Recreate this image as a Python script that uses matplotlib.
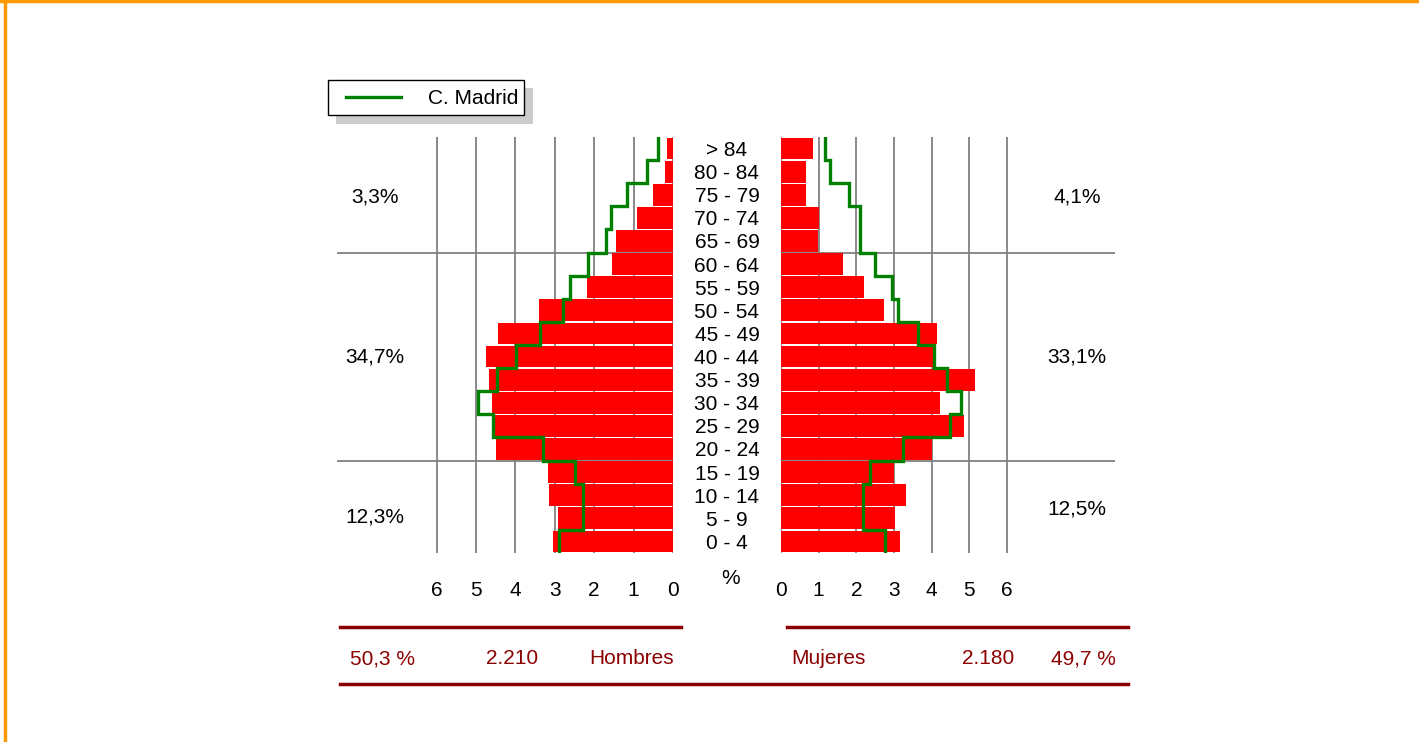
import numpy as np
import matplotlib
matplotlib.use("Agg")
from matplotlib import pyplot as plt
from matplotlib.patches import Rectangle
from matplotlib.lines import Line2D
from matplotlib.transforms import blended_transform_factory

plt.rcParams["font.family"] = ["Liberation Sans", "DejaVu Sans"]

# age groups, youngest first (bottom row first)
ages = ["0 - 4", "5 - 9", "10 - 14", "15 - 19", "20 - 24", "25 - 29", "30 - 34",
        "35 - 39", "40 - 44", "45 - 49", "50 - 54", "55 - 59", "60 - 64",
        "65 - 69", "70 - 74", "75 - 79", "80 - 84", "> 84"]
hombres = [3.05, 2.92, 3.15, 3.17, 4.49, 4.52, 4.59, 4.67, 4.75, 4.44, 3.40,
           2.18, 1.55, 1.45, 0.91, 0.51, 0.20, 0.15]
madrid_h = [2.90, 2.29, 2.28, 2.48, 3.30, 4.58, 4.94, 4.47, 3.98, 3.38, 2.78,
            2.61, 2.17, 1.70, 1.57, 1.18, 0.67, 0.37]
mujeres = [3.16, 3.03, 3.32, 3.00, 4.01, 4.86, 4.22, 5.15, 4.06, 4.14, 2.74,
           2.20, 1.65, 0.98, 1.01, 0.66, 0.66, 0.85]
madrid_m = [2.76, 2.19, 2.19, 2.37, 3.25, 4.48, 4.78, 4.40, 4.07, 3.64, 3.12,
            2.94, 2.50, 2.09, 2.09, 1.81, 1.30, 1.17]
ticks = [0, 1, 2, 3, 4, 5, 6]
group_breaks = [3.5, 12.5]          # 0-19 | 20-64 | 65+
share_h = ["12,3%", "34,7%", "3,3%"]
share_m = ["12,5%", "33,1%", "4,1%"]
totals_h = ["50,3 %", "2.210", "Hombres"]
totals_m = ["Mujeres", "2.180", "49,7 %"]
legend_label = "C. Madrid"

W, H = 1419, 742
RED = "#ff0000"
GREEN = "#008000"
GRID = "#808080"
DARKRED = "#8b0000"
FS = 15
VA = "center_baseline"


def px(x, y):
    # pixel position (top-left origin) -> figure fraction
    return x / W, 1 - y / H


fig = plt.figure(figsize=(W / 100, H / 100), dpi=100)

ax_h = fig.add_axes([337 / W, 1 - 553 / H, 336 / W, 416 / H])
ax_m = fig.add_axes([781 / W, 1 - 553 / H, 334 / W, 416 / H])

y = np.arange(len(ages))


def step_xy(vals):
    xs = np.repeat(vals, 2)
    ys = np.column_stack([y - 0.5, y + 0.5]).ravel()
    return xs, ys


for ax, bars, ref, xlim in [(ax_h, hombres, madrid_h, (8.53, 0)),
                            (ax_m, mujeres, madrid_m, (0, 8.87))]:
    for t in ticks:
        ax.axvline(t, color=GRID, lw=1.3, zorder=0)
    for b in group_breaks:
        ax.axhline(b, color=GRID, lw=1.3, zorder=0)
    ax.barh(y, bars, height=0.94, color=RED, zorder=2)
    xs, ys = step_xy(ref)
    ax.plot(xs, ys, color=GREEN, lw=2.4, zorder=3, solid_joinstyle="miter")
    ax.set_xlim(*xlim)
    ax.set_ylim(-0.5, len(ages) - 0.5)
    ax.set_xticks(ticks)
    ax.set_xticklabels([str(t) for t in ticks], fontsize=FS)
    ax.tick_params(axis="x", length=0, pad=20)
    ax.set_yticks([])
    for s in ax.spines.values():
        s.set_visible(False)

# age labels in the centre gap
tr = blended_transform_factory(fig.transFigure, ax_h.transData)
for i, a in enumerate(ages):
    ax_h.text(727 / W, i, a, transform=tr, ha="center", va=VA,
              fontsize=FS, clip_on=False)

fig.text(*px(731, 577), "%", ha="center", va=VA, fontsize=FS)

# group share labels
for ax, shares, xc, ys_ in [(ax_h, share_h, 375, [1.14, 8.07, 15.0]),
                            (ax_m, share_m, 1077, [1.49, 8.07, 15.0])]:
    trs = blended_transform_factory(fig.transFigure, ax.transData)
    for s, yy in zip(shares, ys_):
        ax.text(xc / W, yy, s, transform=trs, ha="center", va=VA,
                fontsize=FS, clip_on=False)

# legend with shadow
fig.add_artist(Rectangle(px(336, 124), 197 / W, 36 / H, transform=fig.transFigure,
                         facecolor="#cccccc", edgecolor="none"))
fig.add_artist(Rectangle(px(328, 115), 196 / W, 35 / H, transform=fig.transFigure,
                         facecolor="white", edgecolor="black", lw=1.0))
lx0, ly = px(346, 97)
lx1, _ = px(401, 97)
fig.add_artist(Line2D([lx0, lx1], [ly, ly], transform=fig.transFigure,
                      color=GREEN, lw=2.4))
fig.text(*px(518, 97), legend_label, ha="right", va=VA, fontsize=FS)

# bottom summary
for x0, x1, yy in [(340, 681, 627), (787, 1128, 627), (340, 1128, 684)]:
    a, b = px(x0, yy)
    c, _ = px(x1, yy)
    fig.add_artist(Line2D([a, c], [b, b], transform=fig.transFigure,
                          color=DARKRED, lw=2.5))
for txt, xx, ha in zip(totals_h, [350, 538, 674], ["left", "right", "right"]):
    fig.text(*px(xx, 657), txt, ha=ha, va=VA, fontsize=FS, color=DARKRED)
for txt, xx, ha in zip(totals_m, [791, 1014, 1116], ["left", "right", "right"]):
    fig.text(*px(xx, 657), txt, ha=ha, va=VA, fontsize=FS, color=DARKRED)

# orange frame (top and left)
fig.add_artist(Line2D([0, 1], [1 - 1 / H, 1 - 1 / H], transform=fig.transFigure,
                      color="#ff9900", lw=2.5))
fig.add_artist(Line2D([4.5 / W, 4.5 / W], [0, 1], transform=fig.transFigure,
                      color="#ff9900", lw=2.5))

fig.savefig("out.png", dpi=100)
